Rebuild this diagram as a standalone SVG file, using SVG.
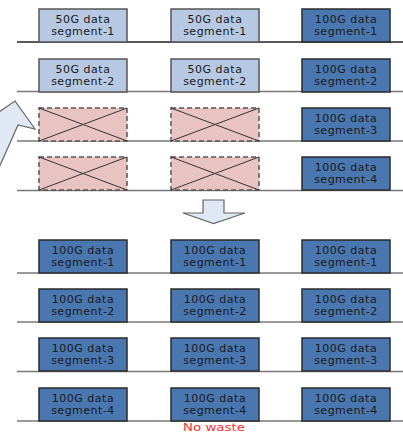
<svg xmlns="http://www.w3.org/2000/svg" width="403" height="433" viewBox="0 0 403 433">
<style>
text{font-family:"DejaVu Sans",sans-serif;font-size:11px;letter-spacing:0.5px;fill:#1a1a1a;text-anchor:middle}
.b50{fill:#b7c9e2;stroke:#555;stroke-width:1.5}
.b100{fill:#4a77b0;stroke:#2b2b2b;stroke-width:1.5}
.bx{fill:#e8c3c2;stroke:#555;stroke-width:1.5;stroke-dasharray:5,3}
.xl{stroke:#333;stroke-width:1;fill:none}
.ln{stroke:#777;stroke-width:1.5}
.arr{fill:#dfe8f4;stroke:#666;stroke-width:1.2}
</style>
<g id="connectors">
<line class="ln" x1="17" y1="42" x2="403" y2="42" style="stroke:#222"/>
<line class="ln" x1="17" y1="91.5" x2="403" y2="91.5"/>
<line class="ln" x1="17" y1="141" x2="403" y2="141"/>
<line class="ln" x1="17" y1="190.5" x2="403" y2="190.5"/>
<line class="ln" x1="17" y1="273" x2="403" y2="273"/>
<line class="ln" x1="17" y1="322" x2="403" y2="322"/>
<line class="ln" x1="17" y1="371.5" x2="403" y2="371.5"/>
<line class="ln" x1="17" y1="421" x2="403" y2="421"/>
</g>
<g id="callout-arrow"><polygon class="arr" points="-10,118 15,101 35,129 18,125 -2,170 -20,170"/></g>
<g id="down-arrow"><polygon class="arr" points="183,213 203,213 203,200 224,200 224,213 245,213 213.5,223.5"/></g>
<g id="a1" transform="translate(39,9)"><rect class="b50" width="88" height="33"/><text x="44" y="14">50G data</text><text x="44" y="26">segment-1</text></g>
<g id="a2" transform="translate(171,9)"><rect class="b50" width="88" height="33"/><text x="44" y="14">50G data</text><text x="44" y="26">segment-1</text></g>
<g id="a3" transform="translate(302,9)"><rect class="b100" width="88" height="33"/><text x="44" y="14">100G data</text><text x="44" y="26">segment-1</text></g>
<g id="b1" transform="translate(39,59)"><rect class="b50" width="88" height="33"/><text x="44" y="14">50G data</text><text x="44" y="26">segment-2</text></g>
<g id="b2" transform="translate(171,59)"><rect class="b50" width="88" height="33"/><text x="44" y="14">50G data</text><text x="44" y="26">segment-2</text></g>
<g id="b3" transform="translate(302,59)"><rect class="b100" width="88" height="33"/><text x="44" y="14">100G data</text><text x="44" y="26">segment-2</text></g>
<g id="c1" transform="translate(39,108)"><rect class="bx" width="88" height="33"/><path class="xl" d="M0,0L88,33M0,33L88,0"/></g>
<g id="c2" transform="translate(171,108)"><rect class="bx" width="88" height="33"/><path class="xl" d="M0,0L88,33M0,33L88,0"/></g>
<g id="c3" transform="translate(302,108)"><rect class="b100" width="88" height="33"/><text x="44" y="14">100G data</text><text x="44" y="26">segment-3</text></g>
<g id="d1" transform="translate(39,157)"><rect class="bx" width="88" height="33"/><path class="xl" d="M0,0L88,33M0,33L88,0"/></g>
<g id="d2" transform="translate(171,157)"><rect class="bx" width="88" height="33"/><path class="xl" d="M0,0L88,33M0,33L88,0"/></g>
<g id="d3" transform="translate(302,157)"><rect class="b100" width="88" height="33"/><text x="44" y="14">100G data</text><text x="44" y="26">segment-4</text></g>
<g id="e1" transform="translate(39,240)"><rect class="b100" width="88" height="33"/><text x="44" y="14">100G data</text><text x="44" y="26">segment-1</text></g>
<g id="e2" transform="translate(171,240)"><rect class="b100" width="88" height="33"/><text x="44" y="14">100G data</text><text x="44" y="26">segment-1</text></g>
<g id="e3" transform="translate(302,240)"><rect class="b100" width="88" height="33"/><text x="44" y="14">100G data</text><text x="44" y="26">segment-1</text></g>
<g id="f1" transform="translate(39,289)"><rect class="b100" width="88" height="33"/><text x="44" y="14">100G data</text><text x="44" y="26">segment-2</text></g>
<g id="f2" transform="translate(171,289)"><rect class="b100" width="88" height="33"/><text x="44" y="14">100G data</text><text x="44" y="26">segment-2</text></g>
<g id="f3" transform="translate(302,289)"><rect class="b100" width="88" height="33"/><text x="44" y="14">100G data</text><text x="44" y="26">segment-2</text></g>
<g id="g1" transform="translate(39,338)"><rect class="b100" width="88" height="33"/><text x="44" y="14">100G data</text><text x="44" y="26">segment-3</text></g>
<g id="g2" transform="translate(171,338)"><rect class="b100" width="88" height="33"/><text x="44" y="14">100G data</text><text x="44" y="26">segment-3</text></g>
<g id="g3" transform="translate(302,338)"><rect class="b100" width="88" height="33"/><text x="44" y="14">100G data</text><text x="44" y="26">segment-3</text></g>
<g id="h1" transform="translate(39,388)"><rect class="b100" width="88" height="33"/><text x="44" y="14">100G data</text><text x="44" y="26">segment-4</text></g>
<g id="h2" transform="translate(171,388)"><rect class="b100" width="88" height="33"/><text x="44" y="14">100G data</text><text x="44" y="26">segment-4</text></g>
<g id="h3" transform="translate(302,388)"><rect class="b100" width="88" height="33"/><text x="44" y="14">100G data</text><text x="44" y="26">segment-4</text></g>
<g id="label"><text x="214" y="431" style="font-size:11px;letter-spacing:0;fill:#ff3030" textLength="62" lengthAdjust="spacingAndGlyphs">No waste</text></g>
</svg>
